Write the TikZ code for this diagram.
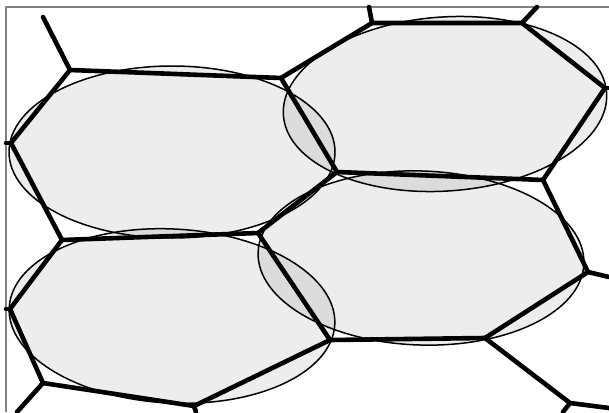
\documentclass[tikz,border=0pt]{standalone}
\usepackage{tikz}

\begin{document}
\begin{tikzpicture}[x=1pt, y=-1pt, line join=round,
    grain/.style={draw=black, line width=1.5pt, fill=black, fill opacity=0.07},
    wall/.style={line width=4.6pt, line cap=round}]
  \useasboundingbox (0,0) rectangle (609,412);

  % Frame (top and left only)
  \draw[gray, line width=1.3pt] (609,7) -- (6,7) -- (6,412);

  % Cell corners
  \coordinate (V1) at (70,70);
  \coordinate (V2) at (281,78);
  \coordinate (V3) at (11,143);
  \coordinate (V4) at (62,240);
  \coordinate (V5) at (337,172);
  \coordinate (V6) at (258,233);
  \coordinate (V7) at (372,23);
  \coordinate (V8) at (522,23);
  \coordinate (V9) at (605,88);
  \coordinate (V10) at (543,180);
  \coordinate (V12) at (588,272);
  \coordinate (V13) at (485,338);
  \coordinate (V14) at (330,340);
  \coordinate (V15) at (194,406);
  \coordinate (V16) at (43,383);
  \coordinate (V17) at (10,309);
  \coordinate (V18) at (570,403);

  % Loose ends at the border
  \coordinate (E1) at (43,17);
  \coordinate (E7) at (369,7);
  \coordinate (E8) at (537,7);
  \coordinate (E9) at (609,88);
  \coordinate (E12) at (609,277);
  \coordinate (E18a) at (609,408);
  \coordinate (E18b) at (563,412);
  \coordinate (E15) at (196,412);
  \coordinate (E16) at (17,412);
  \coordinate (E3) at (6,143);
  \coordinate (E17) at (6,309);

  % Ellipses
  \path[grain] (172,152) ellipse [x radius=163, y radius=86];
  \path[grain, rotate around={4:(445,104)}] (445,104) ellipse [x radius=162, y radius=87];
  \path[grain, rotate around={-3:(172,316)}] (172,316) ellipse [x radius=163, y radius=87];
  \path[grain, rotate around={-2:(421,258)}] (421,258) ellipse [x radius=163, y radius=87];

  % Cell walls
  \draw[wall] (V3) -- (V1) -- (V2) -- (V5) -- (V6) -- (V4) -- cycle;
  \draw[wall] (V2) -- (V7) -- (V8) -- (V9) -- (V10) -- (V5);
  \draw[wall] (V10) -- (V12) -- (V13) -- (V14) -- (V6);
  \draw[wall] (V14) -- (V15) -- (V16) -- (V17) -- (V4);

  % Walls of the neighbours
  \draw[wall] (V1) -- (E1);
  \draw[wall] (V7) -- (E7);
  \draw[wall] (V8) -- (E8);
  \draw[wall] (V9) -- (E9);
  \draw[wall] (V12) -- (E12);
  \draw[wall] (V13) -- (V18) -- (E18a);
  \draw[wall] (V18) -- (E18b);
  \draw[wall] (V15) -- (E15);
  \draw[wall] (V16) -- (E16);
  \draw[wall] (V3) -- (E3);
  \draw[wall] (V17) -- (E17);
\end{tikzpicture}
\end{document}
